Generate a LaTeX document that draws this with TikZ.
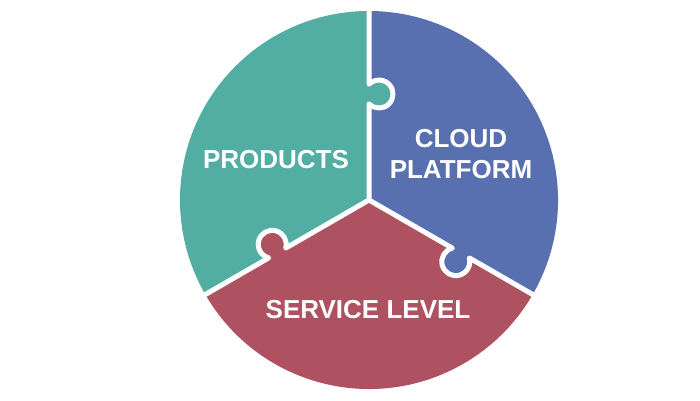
\documentclass[tikz,border=0pt]{standalone}
\usepackage{fontspec}
\setmainfont{Liberation Sans}
\definecolor{tealc}{HTML}{52ADA2}
\definecolor{bluec}{HTML}{5970B0}
\definecolor{redc}{HTML}{AE5262}
\begin{document}
\begin{tikzpicture}[x=1pt,y=1pt,
  cut/.style={white, line width=5pt, line join=round, line cap=round},
  lbl/.style={text=white, font=\fontsize{26}{31}\selectfont\bfseries, align=center, inner sep=0pt}]
\useasboundingbox (0,0) rectangle (700,400);
\coordinate (O) at (369,200);
% sectors
\fill[tealc] (O) -- ++(90:189) arc[start angle=90,end angle=210,radius=189] -- cycle;
\fill[redc] (O) -- ++(210:189) arc[start angle=210,end angle=330,radius=189] -- cycle;
\fill[bluec] (O) -- ++(330:189) arc[start angle=330,end angle=450,radius=189] -- cycle;
% knobs
\foreach \a/\c in {90/tealc,210/redc,330/bluec}{
  \begin{scope}[shift={(O)},rotate=\a]
    \fill[\c] (106,-10) circle[radius=14];
  \end{scope}
}
% cut lines
\foreach \a in {90,210,330}{
  \begin{scope}[shift={(O)},rotate=\a]
    \draw[cut] (0,0) -- (96.2,0) arc[start angle=134.4,end angle=405.6,radius=14] -- (196,0);
  \end{scope}
}
% labels
\node[lbl] (products) at (276,240) {PRODUCTS};
\node[lbl] (cloud) at (461,246) {CLOUD\\PLATFORM};
\node[lbl] (service) at (368,90) {SERVICE LEVEL};
\end{tikzpicture}
\end{document}
